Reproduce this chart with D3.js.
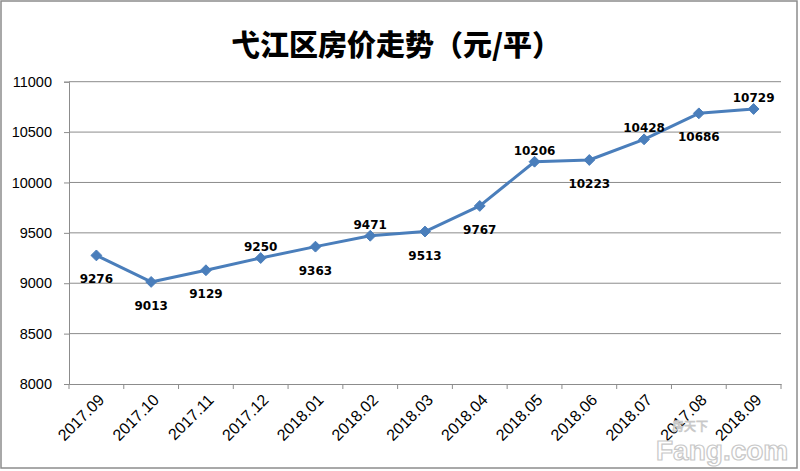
<!DOCTYPE html>
<html><head><meta charset="utf-8">
<script src="https://cdn.jsdelivr.net/npm/d3@7"></script>
<style>
html,body{margin:0;padding:0;background:#fff;}
svg{display:block;}
</style></head>
<body>
<svg id="chart" width="800" height="471"></svg>
<script>
const title = "弋江区房价走势（元/平）";
const categories = ["2017.09","2017.10","2017.11","2017.12","2018.01","2018.02","2018.03","2018.04","2018.05","2018.06","2018.07","2017.08","2018.09"];
const prices = [9276, 9013, 9129, 9250, 9363, 9471, 9513, 9767, 10206, 10223, 10428, 10686, 10729];
const labelSide = ["below","below","below","above","below","above","below","below","above","below","above","below","above"];
const yTicks = [8000, 8500, 9000, 9500, 10000, 10500, 11000];

const W = 800, H = 471;
const m = {left: 69, right: 19, top: 81.7, bottom: 87};
const svg = d3.select("#chart");

svg.append("rect").attr("x",1).attr("y",1).attr("width",W-4).attr("height",H-4)
  .attr("fill","#fff").attr("stroke","#8c8c8c").attr("stroke-width",1.5);

const x = d3.scaleBand().domain(categories).range([m.left, W - m.right]).padding(0);
const y = d3.scaleLinear().domain([8000, 11000]).range([384, m.top]);

// gridlines
svg.append("g").selectAll("line").data(yTicks.filter(d => d > 8000)).join("line")
  .attr("x1", m.left).attr("x2", W - m.right)
  .attr("y1", d => y(d)).attr("y2", d => y(d))
  .attr("stroke", "#8c8c8c").attr("stroke-width", 1);

// y axis
const yAxis = svg.append("g").attr("transform", `translate(${m.left},0)`)
  .call(d3.axisLeft(y).tickValues(yTicks).tickSize(5).tickPadding(12).tickFormat(d3.format("d")));
yAxis.selectAll("line,path").attr("stroke", "#8c8c8c");
yAxis.selectAll("text").attr("font-family", "Liberation Sans, Arial, sans-serif").attr("font-size", 14.5).attr("fill", "#000");

// x axis
const xAxis = svg.append("g").attr("transform", `translate(0,${y(8000)})`)
  .call(d3.axisBottom(x).tickSize(0).tickFormat(""));
xAxis.select("path").attr("stroke", "#8c8c8c");
const bounds = categories.map(c => x(c)).concat([x(categories[categories.length-1]) + x.bandwidth()]);
svg.append("g").selectAll("line").data(bounds).join("line")
  .attr("x1", d => d).attr("x2", d => d)
  .attr("y1", y(8000)).attr("y2", y(8000) + 5)
  .attr("stroke", "#8c8c8c");

svg.append("g").selectAll("text").data(categories).join("text")
  .attr("transform", d => `translate(${x(d) + x.bandwidth()/2 + 5},${y(8000) + 13}) rotate(-45)`)
  .attr("text-anchor", "end")
  .attr("dy", "0.35em")
  .attr("font-family", "Liberation Sans, Arial, sans-serif")
  .attr("font-size", 16)
  .attr("fill", "#000")
  .text(d => d);

// line
const cx = (d, i) => x(categories[i]) + x.bandwidth()/2;
svg.append("path").datum(prices)
  .attr("fill", "none").attr("stroke", "#4a7ebb").attr("stroke-width", 3)
  .attr("stroke-linejoin", "round")
  .attr("d", d3.line().x(cx).y(d => y(d)));

// markers
svg.append("g").selectAll("path").data(prices).join("path")
  .attr("transform", (d, i) => `translate(${cx(d, i)},${y(d)})`)
  .attr("d", d3.symbol().type(d3.symbolDiamond2).size(75))
  .attr("fill", "#4a7ebb").attr("stroke", "#4a7ebb").attr("stroke-width", 1);

// data labels
svg.append("g").selectAll("text").data(prices).join("text")
  .attr("x", cx)
  .attr("y", (d, i) => labelSide[i] === "above" ? y(d) - 7 : y(d) + 28)
  .attr("text-anchor", "middle")
  .attr("font-family", "DejaVu Sans, Verdana, sans-serif")
  .attr("font-weight", "bold")
  .attr("font-size", 12)
  .attr("fill", "#000")
  .text(d => d);

// title
svg.append("text").attr("x", 396).attr("y", 56)
  .attr("text-anchor", "middle")
  .attr("font-family", "Noto Sans CJK SC, sans-serif")
  .attr("font-weight", "900")
  .attr("font-size", 29)
  .attr("fill", "#000")
  .text(title);

// watermark
svg.append("text").attr("x", 656).attr("y", 460)
  .attr("font-family", "Liberation Sans, Arial, sans-serif").attr("font-weight", "bold")
  .attr("font-size", 28).attr("fill", "#fff").attr("fill-opacity", 0.55)
  .attr("stroke", "#c8c8c8").attr("stroke-width", 1.2)
  .text("Fang.com");
svg.append("text").attr("x", 672).attr("y", 431)
  .attr("font-family", "Noto Sans CJK SC, sans-serif")
  .attr("font-size", 12).attr("fill", "#fff").attr("fill-opacity", 0.55)
  .attr("stroke", "#c8c8c8").attr("stroke-width", 0.8)
  .text("房天下");
</script>
</body></html>
